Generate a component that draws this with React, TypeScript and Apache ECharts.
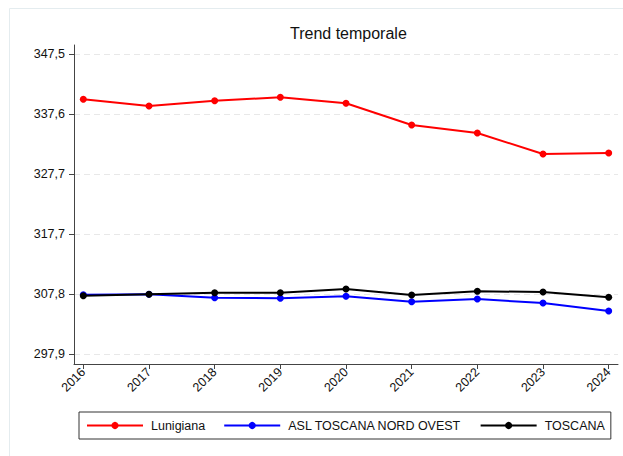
import React, { useEffect, useRef } from "react";
import * as echarts from "echarts";

const years = [2016, 2017, 2018, 2019, 2020, 2021, 2022, 2023, 2024];
const lunigiana = [340.05, 338.94, 339.82, 340.38, 339.39, 335.8, 334.48, 331.0, 331.17];
const aslToscanaNordOvest = [307.71, 307.78, 307.22, 307.12, 307.45, 306.56, 307.0, 306.34, 305.02];
const toscana = [307.55, 307.78, 308.05, 308.05, 308.66, 307.66, 308.28, 308.16, 307.28];
const yTicks = [297.9, 307.8, 317.7, 327.7, 337.6, 347.5];
const seriesNames = ["Lunigiana", "ASL TOSCANA NORD OVEST", "TOSCANA"];
const seriesColors = ["#ff0000", "#0000ff", "#000000"];

const FONT = "'Liberation Sans', Arial, sans-serif";

export default function App() {
  const ref = useRef<HTMLDivElement>(null);
  useEffect(() => {
    if (!ref.current) return;
    const chart = echarts.init(ref.current, null, { renderer: "svg" });
    const allSeries = [lunigiana, aslToscanaNordOvest, toscana];
    chart.setOption({
      animation: false,
      textStyle: { fontFamily: FONT },
      title: {
        text: "Trend temporale",
        left: 285,
        top: 20,
        textStyle: { fontFamily: FONT, fontSize: 16, fontWeight: "normal", color: "#111" },
      },
      graphic: [
        {
          type: "rect",
          shape: { x: 9.5, y: 8.5, width: 700, height: 500 },
          style: { fill: "none", stroke: "#e4ecef", lineWidth: 1 },
          silent: true,
        },
      ],
      legend: {
        left: 79,
        top: 412,
        padding: [7, 6, 7, 7],
        borderColor: "#333",
        borderWidth: 1,
        borderRadius: 0,
        itemWidth: 56,
        itemHeight: 9,
        itemGap: 18,
        textStyle: { fontFamily: FONT, fontSize: 12.5, color: "#111", padding: [0, 0, 0, 3] },
        data: seriesNames,
      },
      grid: { left: 74, top: 45, right: 5, bottom: 92, containLabel: false },
      xAxis: {
        type: "value",
        min: 2015.858,
        max: 2024.142,
        axisLine: { show: true, lineStyle: { color: "#444", width: 1 } },
        axisTick: { show: true, length: 5, lineStyle: { color: "#444" }, customValues: years },
        axisLabel: {
          customValues: years,
          rotate: 45,
          fontFamily: FONT,
          fontSize: 12.5,
          color: "#111",
          margin: 6,
          formatter: (v: number) => String(Math.round(v)),
        },
        splitLine: { show: false },
      },
      yAxis: {
        type: "value",
        min: 296.245,
        max: 349.04,
        axisLine: { show: true, lineStyle: { color: "#444", width: 1 } },
        axisTick: { show: true, length: 5, lineStyle: { color: "#444" }, customValues: yTicks },
        axisLabel: {
          customValues: yTicks,
          fontFamily: FONT,
          fontSize: 12.5,
          color: "#111",
          margin: 9,
          formatter: (v: number) => v.toFixed(1).replace(".", ","),
        },
        splitLine: { show: true, lineStyle: { color: "#e8e8e8", type: [6, 4], width: 1 } },
      },
      series: seriesNames.map((name, i) => ({
        name,
        type: "line",
        data: years.map((y, j) => [y, allSeries[i][j]]),
        symbol: "circle",
        symbolSize: 7,
        itemStyle: { color: seriesColors[i] },
        lineStyle: { color: seriesColors[i], width: 2 },
        z: 2 + i,
      })),
    });
    return () => chart.dispose();
  }, []);
  return (
    <div
      ref={ref}
      style={{ position: "absolute", left: 0, top: 0, width: 623, height: 456 }}
    />
  );
}
